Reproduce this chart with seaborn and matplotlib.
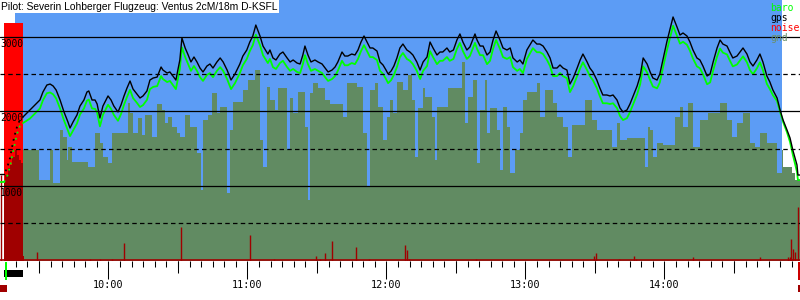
import matplotlib
matplotlib.use("Agg")
import matplotlib.pyplot as plt
import matplotlib.transforms as mtransforms
from matplotlib.patches import Rectangle
from matplotlib.ticker import FixedLocator
import numpy as np
import pandas as pd
import seaborn as sns

sns.set_theme(style="white")
plt.rcParams['font.family'] = ['DejaVu Sans Mono']

# ---------------- data (time = minutes after 09:00, altitude in m) ----------------
title = "Pilot: Severin Lohberger Flugzeug: Ventus 2cM/18m D-KSFL"

gps_t = [23.1, 26.1, 28.3, 30.4, 31.7, 33.4, 34.8, 36.1, 37.4, 39.1, 40.8, 42.5, 43.4, 44.7,
         46.4, 47.7, 49.4, 50.7, 51.5, 52.9, 54.2, 55.1, 56.3, 57.6, 58.9, 59.8, 61.1, 62.3,
         64.1, 65.4, 66.7, 68.0, 69.3, 70.6, 72.3, 73.6, 74.9, 76.6, 77.9, 79.3, 81.0, 82.7,
         83.5, 85.3, 86.5, 87.8, 89.1, 90.8, 91.7, 93.1, 94.4, 95.6, 96.9, 98.2, 99.5, 100.8,
         102.5, 103.8, 105.1, 106.8, 108.2, 109.5, 111.2, 112.9, 114.6, 116.7, 118.0, 119.7,
         121.0, 122.3, 123.6, 125.4, 126.7, 128.8, 129.7, 131.0, 132.3, 134.0, 135.3, 137.1,
         138.4, 139.7, 141.4, 142.7, 143.9, 144.8, 146.1, 147.4, 149.1, 150.5, 152.2, 153.5,
         154.8, 156.5, 157.8, 159.0, 160.8, 162.0, 163.3, 165.0, 166.4, 167.7, 169.0, 170.3,
         171.6, 172.9, 174.1, 175.9, 177.2, 178.5, 179.8, 180.7, 182.0, 183.2, 184.5, 185.8,
         187.1, 188.8, 190.1, 191.4, 193.1, 194.5, 195.8, 197.5, 198.8, 200.1, 201.8, 203.1,
         204.3, 206.1, 207.3, 208.9, 210.4, 211.7, 213.0, 214.7, 216.0, 218.2, 219.1, 220.4,
         221.7, 223.4, 224.7, 226.0, 227.3, 229.0, 230.3, 232.0, 233.4, 234.6, 236.4, 237.6,
         238.9, 240.6, 243.2, 244.9, 246.2, 247.6, 249.3, 250.6, 251.9, 253.6, 254.9, 256.2,
         257.9, 259.2, 260.6, 262.3, 263.6, 264.8, 266.6, 267.8, 269.1, 270.8, 272.1, 273.4,
         275.1, 276.5, 277.8, 279.5, 280.8, 282.1, 283.8, 285.1, 286.5, 288.2, 289.5, 290.8,
         292.5, 293.8, 295.0, 296.8, 298.0, 299.3, 301.0, 302.3, 303.7, 305.4, 306.7, 308.0,
         309.7, 311.0, 312.3, 314.0, 315.3, 316.6, 318.4, 319.7, 321.0, 322.7, 324.0, 325.2,
         327.0, 328.2, 329.5, 331.3, 333.9, 335.6, 336.9, 338.2, 339.9, 341.2, 342.5, 344.2,
         345.5, 346.8, 348.6, 349.9, 351.2, 352.9, 354.2, 355.4, 357.2, 357.6, 358.5]

gps_alt = [1926, 2020, 2087, 2154, 2261, 2355, 2368, 2342, 2288, 2154, 1993, 1859, 1778, 1859,
           1953, 2073, 2154, 2261, 2275, 2154, 2154, 2100, 1912, 2073, 2154, 2208, 2154, 2073,
           1993, 2087, 2208, 2315, 2409, 2301, 2234, 2181, 2208, 2275, 2422, 2449, 2462, 2597,
           2556, 2516, 2530, 2476, 2422, 2691, 2986, 2852, 2758, 2664, 2731, 2664, 2583, 2530,
           2610, 2637, 2583, 2664, 2718, 2664, 2556, 2422, 2503, 2637, 2744, 2825,
           2932, 3013, 3160, 3013, 2878, 2771, 2825, 2718, 2691, 2771, 2798, 2718,
           2664, 2691, 2650, 2637, 2758, 2878, 2758, 2664, 2691, 2664, 2637, 2583,
           2530, 2556, 2597, 2664, 2798, 2744, 2744, 2771, 2758, 2825, 2932, 3013,
           2932, 2852, 2852, 2811, 2664, 2624, 2556, 2503, 2543, 2610, 2718, 2852,
           2905, 2825, 2798, 2758, 2664, 2556, 2664, 2731, 2932, 2852, 2758, 2798,
           2798, 2852, 2798, 2825, 2959, 3040, 2932, 2825, 2865, 3040, 2959, 2878,
           2878, 2758, 2798, 2959, 3080, 2959, 2852, 2825, 2852, 2718, 2664, 2691,
           2637, 2825, 2959, 2905, 2905, 2878, 2798, 2718, 2583, 2583, 2624, 2583,
           2556, 2368, 2449, 2583, 2691, 2771, 2664, 2583, 2530, 2422, 2315, 2221,
           2221, 2208, 2221, 2154, 2047, 1993, 2020, 2100, 2208, 2342, 2476, 2718,
           2637, 2530, 2449, 2422, 2503, 2691, 2932, 3093, 3268, 3134, 3026, 3053,
           3013, 2932, 2825, 2718, 2691, 2610, 2476, 2503, 2664, 2852, 2959, 2905,
           2878, 2798, 2718, 2744, 2852, 2771, 2664, 2610, 2691, 2771, 2664, 2476,
           2395, 2288, 2181, 2020, 1885, 1751, 1644, 1483, 1282, 1147, 1147]

baro_alt = [1845, 1905, 1975, 2040, 2150, 2245, 2255, 2230, 2175, 2040, 1880, 1745, 1670, 1745,
            1840, 1960, 2040, 2145, 2160, 2040, 2035, 1985, 1800, 1955, 2035, 2090, 2035, 1955,
            1875, 1965, 2090, 2195, 2290, 2180, 2115, 2060, 2085, 2155, 2300, 2330, 2340, 2475,
            2435, 2395, 2410, 2355, 2300, 2570, 2860, 2730, 2635, 2545, 2610, 2545, 2460, 2410,
            2490, 2515, 2460, 2545, 2595, 2545, 2435, 2300, 2380, 2515, 2620, 2705,
            2810, 2890, 3030, 2890, 2755, 2650, 2705, 2595, 2570, 2650, 2680, 2595,
            2545, 2570, 2530, 2515, 2635, 2755, 2635, 2545, 2570, 2545, 2515, 2460,
            2410, 2435, 2475, 2545, 2680, 2620, 2620, 2650, 2635, 2705, 2810, 2890,
            2810, 2730, 2730, 2690, 2545, 2505, 2435, 2380, 2420, 2490, 2595, 2730,
            2785, 2705, 2680, 2635, 2545, 2435, 2545, 2610, 2810, 2730, 2635, 2680,
            2680, 2730, 2680, 2705, 2840, 2920, 2810, 2705, 2745, 2920, 2840, 2755,
            2755, 2635, 2680, 2840, 2960, 2840, 2730, 2705, 2730, 2595, 2545, 2570,
            2515, 2705, 2850, 2795, 2795, 2770, 2690, 2610, 2475, 2475, 2515, 2475,
            2445, 2260, 2340, 2475, 2580, 2660, 2555, 2475, 2420, 2315, 2205, 2110,
            2110, 2100, 2110, 2045, 1940, 1885, 1910, 1990, 2100, 2230, 2365, 2605,
            2525, 2420, 2335, 2310, 2390, 2580, 2815, 2975, 3150, 3015, 2910, 2935,
            2895, 2815, 2710, 2605, 2580, 2500, 2365, 2390, 2550, 2735, 2845, 2790,
            2765, 2685, 2605, 2630, 2740, 2660, 2555, 2500, 2580, 2660, 2555, 2370,
            2300, 2220, 2140, 1995, 1860, 1720, 1590, 1420, 1190, 1080, 1080]

# before take-off and aerotow (dotted part of the trace)
tow_t = [13.2, 14.9, 16.2, 17.5, 18.3, 19.2, 20.1, 20.9, 21.8, 23.1]
tow_gps = [1154, 1154, 1241, 1376, 1510, 1644, 1751, 1832, 1885, 1926]
tow_baro = [1053, 1053, 1125, 1260, 1385, 1515, 1640, 1740, 1805, 1845]

# terrain below the glider (step profile)
gnd_t = [14.9, 23.3, 30.1, 34.8, 36.2, 39.1, 40.5, 42.0, 42.7, 44.1, 51.2, 54.2, 56.3, 57.8,
         59.9, 61.4, 68.6, 69.3, 70.7, 72.9, 74.3, 75.7, 78.7, 80.8, 83.0, 84.4, 85.8, 87.3,
         89.4, 90.8, 93.1, 95.2, 98.1, 99.8, 100.9, 103.1, 104.5, 106.8, 108.2, 111.0, 112.5,
         113.9, 118.2, 120.3, 123.2, 125.4, 126.8, 128.3, 129.7, 131.8, 133.3, 137.0, 138.4,
         139.8, 141.9, 144.8, 146.2, 146.9, 148.4, 150.6, 153.5, 155.6, 161.3, 162.8, 167.2,
         170.0, 171.4, 172.9, 175.0, 176.4, 178.7, 180.1, 181.5, 182.9, 184.4, 187.2, 189.4,
         190.8, 192.2, 193.7, 195.9, 196.6, 199.5, 200.9, 201.6, 206.6, 212.5, 213.9, 215.3,
         217.4, 218.9, 220.4, 222.6, 223.3, 224.7, 227.6, 229.0, 230.4, 231.9, 233.4, 235.5,
         237.6, 239.1, 240.5, 244.8, 246.2, 248.5, 252.0, 253.5, 256.3, 258.5, 260.0, 265.7,
         268.6, 270.7, 277.3, 279.4, 280.8, 283.7, 291.6, 293.0, 293.8, 295.2, 296.6, 299.5,
         304.6, 306.7, 308.1, 310.3, 312.4, 315.3, 318.9, 323.9, 326.8, 329.0, 331.1, 334.0,
         336.9, 339.1, 341.2, 344.1, 348.5, 350.6, 351.3, 354.9, 356.3, 358.5]
gnd_alt = [1060, 1483, 1080, 1483, 1040, 1751, 1657, 1349, 1523, 1322, 1255, 1711, 1577, 1389,
           1308, 1711, 2114, 1979, 1711, 1912, 1684, 1953, 1657, 2100, 2020, 1845, 1926, 1792,
           1711, 1657, 1953, 1792, 1443, 946, 1885, 1953, 2248, 1979, 2060, 906, 1751,
           2127, 2288, 2422, 2557, 1617, 1255, 2329, 2154, 2020, 2315, 1483, 2181,
           1979, 2261, 1792, 812, 2248, 2382, 2315, 2154, 2100, 1926, 2382, 2329,
           1711, 986, 2288, 2382, 2060, 1617, 1926, 2154, 1979, 2396, 2288, 2490,
           2154, 1389, 2047, 2315, 2194, 1926, 1349, 2060, 2315, 2664, 1845, 2194,
           2422, 1308, 2020, 2422, 1711, 2047, 1751, 1215, 2060, 1792, 1175, 1483,
           1711, 2154, 2261, 2382, 1926, 2288, 2114, 1926, 1792, 1389, 1818, 2154,
           1885, 1751, 1523, 1845, 1617, 1644, 1255, 1792, 1751, 1389, 1577, 1550,
           1926, 2060, 1792, 2114, 1523, 1885, 1979, 2114, 1885, 1657, 1845, 1979,
           1577, 1523, 1711, 1577, 1175, 1483, 1255, 1175, 1080, 1080]

# noise (percent of full scale)
enl_t = [14.9, 23.1]
enl_level = [91.2, 91.2]
noise_band_t = [14.9, 15.3, 16.6, 17.5, 18.3, 19.6, 20.5, 21.4, 22.2, 23.1, 23.5]
noise_band_v = [30, 33, 35.6, 36.8, 39.8, 42.5, 40.5, 38.7, 37.5, 1.9, 0]
spike_t = [13.8, 29.1, 52.0, 56.3, 61.5, 66.7, 91.2, 121.2, 131.6, 149.7, 151.3, 153.6, 156.6,
           167.0, 172.6, 188.1, 189.0, 189.8, 218.8, 269.6, 270.4, 280.5, 287.0, 287.8, 312.2,
           341.4, 353.2, 354.0, 354.7, 355.6, 356.5, 357.8]
spike_v = [33, 3.4, 0.8, 0.8, 0.8, 6.9, 13.0, 9.8, 0.8, 1.9, 0.8, 3.0, 7.7,
           5.4, 0.8, 6.1, 4.2, 0.8, 0.8, 1.9, 3.0, 0.8, 1.9, 0.8, 1.5,
           1.5, 1.5, 1.5, 8.4, 4.6, 3.4, 20.7]

sky_t = [19.6, 350.8]
hour_t = [60, 120, 180, 240, 300]
hour_labels = ["10:00", "11:00", "12:00", "13:00", "14:00"]
half_t = [30, 90, 150, 210, 270, 330]
five_t = list(range(20, 360, 5))
solid_levels = [1000, 2000, 3000]
dashed_levels = [500, 1500, 2500]
legend_names = ["baro", "gps", "noise", "gnd"]

# ---------------- style ----------------
BLUE = "#5c9cf5"
GND = "#618b62"
DARKRED = "#a00000"
RED = "#ff0000"
LIME = "#00ff00"

fig = plt.figure(figsize=(8, 3), dpi=100)
ax = fig.add_axes([0, 39 / 300, 1, 261 / 300])
xmin, xmax = 13.17, 358.5
ax.set_xlim(xmin, xmax)
ax.set_ylim(-7, 3496)

blend = mtransforms.blended_transform_factory(ax.transData, ax.transAxes)
noise_tr = mtransforms.Affine2D().scale(1, 0.01) + blend

ax.axvspan(sky_t[0], sky_t[1], color=BLUE, lw=0, zorder=0)
ax.fill_between(enl_t, 0, enl_level, step='post', color=RED, lw=0, transform=noise_tr, zorder=1)
ax.fill_between(gnd_t, -7, gnd_alt, step='post', color=GND, lw=0, zorder=2)
ax.fill_between(noise_band_t, 0, noise_band_v, step='post', color=DARKRED, lw=0,
                transform=noise_tr, zorder=3)
ax.vlines(spike_t, 0, spike_v, color=DARKRED, lw=1.0, transform=noise_tr, zorder=3)
ax.plot([0, 1], [0.002, 0.002], transform=ax.transAxes, color=DARKRED, lw=1.2, zorder=3)

df = pd.DataFrame({"t": gps_t, "gps": gps_alt, "baro": baro_alt})
sns.lineplot(data=df, x="t", y="baro", color=LIME, linewidth=1.3, ax=ax, sort=False,
             estimator=None, zorder=5)
sns.lineplot(data=df, x="t", y="gps", color="black", linewidth=1.0, ax=ax, sort=False,
             estimator=None, zorder=6)
# ground phase (solid) and tow (dotted)
ax.plot(tow_t[:2], tow_baro[:2], color=LIME, lw=1.3, zorder=5)
ax.plot(tow_t[:2], tow_gps[:2], color="black", lw=1.0, zorder=6)
ax.plot(tow_t[1:], tow_baro[1:], color=LIME, lw=1.3, ls=(0, (1, 2.5)), zorder=5)
ax.plot(tow_t[1:], tow_gps[1:], color="black", lw=1.3, ls=(1.5, (1, 2.5)), zorder=6)

for lv in solid_levels:
    ax.axhline(lv, color="black", lw=0.9, zorder=7)
    ax.text(xmin, lv - 22, str(lv), ha="left", va="top", fontsize=6.9, color="black",
            zorder=8)
for lv in dashed_levels:
    ax.axhline(lv, color="black", lw=0.9, ls=(0, (3.6, 2.6)), zorder=7)

# axis and ticks
ax.set_xlabel("")
ax.set_ylabel("")
ax.set_yticks([])
for s in ax.spines.values():
    s.set_visible(False)
ax.set_xticks(hour_t, hour_labels)
ax.xaxis.set_minor_locator(FixedLocator(five_t))
ax.tick_params(axis="x", which="major", bottom=True, length=13.0, width=0.75, color="black",
               direction="out", pad=1.0, labelsize=7.3, labelcolor="black")
ax.tick_params(axis="x", which="minor", bottom=True, length=4.3, width=0.75, color="black",
               direction="out")
sec = ax.secondary_xaxis("bottom")
sec.set_xticks(half_t)
sec.tick_params(axis="x", which="major", bottom=True, length=8.6, width=0.75, color="black",
                direction="out", labelbottom=False)
sec.tick_params(axis="x", which="minor", bottom=False)
for s in sec.spines.values():
    s.set_visible(False)

# markers below the axis (take-off / tow / landing)
def fr(p):
    return (261 - p) / 261

ax.add_patch(Rectangle((enl_t[0], fr(277)), enl_t[1] - enl_t[0], fr(270) - fr(277),
                       transform=blend, color="black", clip_on=False, lw=0, zorder=9))
ax.add_patch(Rectangle((tow_t[1] + 0.4, fr(280)), 1.0, fr(261.7) - fr(280),
                       transform=blend, color=LIME, clip_on=False, lw=0, zorder=9))
ax.add_patch(Rectangle((xmin, fr(292)), 2.9, fr(285) - fr(292),
                       transform=blend, color=DARKRED, clip_on=False, lw=0, zorder=9))
ax.add_patch(Rectangle((spike_t[-1] - 0.3, fr(292)), 1.2, fr(285) - fr(292),
                       transform=blend, color=DARKRED, clip_on=False, lw=0, zorder=9))
ax.add_patch(Rectangle((spike_t[-1] - 0.3, fr(280)), 1.2, fr(261.7) - fr(280),
                       transform=blend, color="#cc0000", clip_on=False, lw=0, zorder=9))

# title
fig.text(1 / 800, 1 - 1.5 / 300, title, ha="left", va="top", fontsize=7.4,
         family=["Liberation Sans", "DejaVu Sans"], color="black",
         bbox=dict(facecolor="white", edgecolor="none", pad=1.2), zorder=10)

# legend
leg_colors = [LIME, "black", RED, "#6a8f6a"]
for i, (name, c) in enumerate(zip(legend_names, leg_colors)):
    fig.text(770 / 800, 1 - (3.0 + 10 * i) / 300, name, ha="left", va="top", fontsize=7.0,
             color=c, zorder=10)

fig.savefig("out.png", dpi=100)
